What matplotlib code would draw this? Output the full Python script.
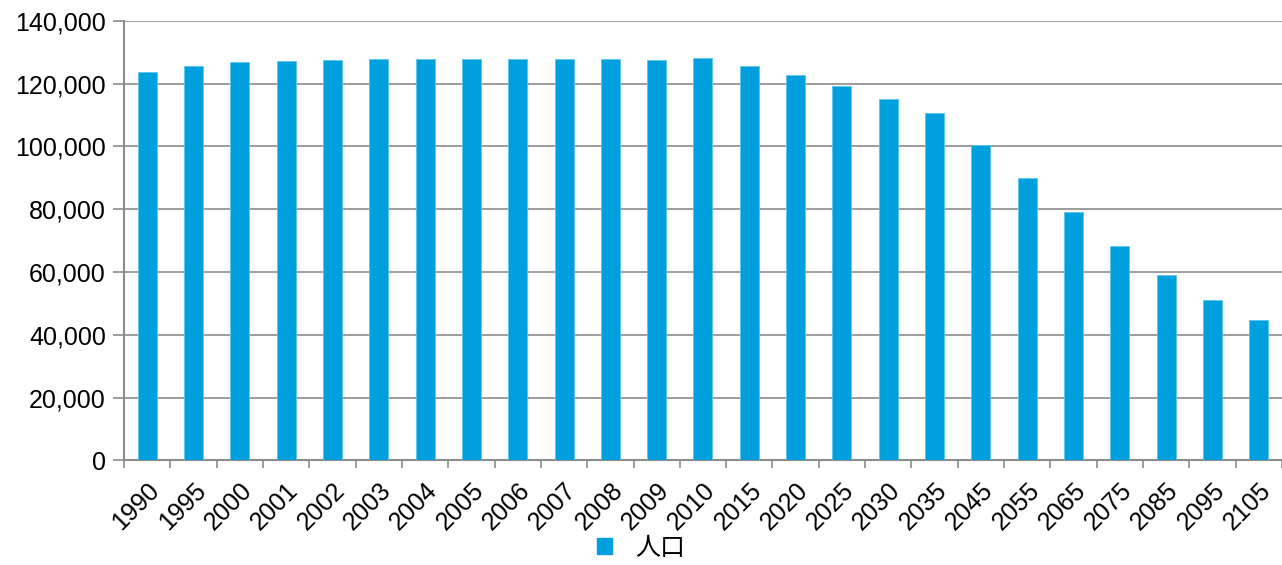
import numpy as np
import matplotlib
matplotlib.use("Agg")
import matplotlib.pyplot as plt
from matplotlib.ticker import FuncFormatter, FixedLocator
from matplotlib.patches import Patch

plt.rcParams['font.family'] = ['Liberation Sans', 'Noto Sans CJK JP', 'DejaVu Sans']

# data (thousands of people)
years = ['1990', '1995', '2000', '2001', '2002', '2003', '2004', '2005', '2006',
         '2007', '2008', '2009', '2010', '2015', '2020', '2025', '2030', '2035',
         '2045', '2055', '2065', '2075', '2085', '2095', '2105']
population = [123611, 125570, 126926, 127316, 127486, 127694, 127787, 127768, 127770,
              127771, 127692, 127510, 128057, 125430, 122735, 119270, 115224, 110679,
              100443, 89930, 79000, 68200, 59000, 51100, 44590]
series_name = '人口'

bar_color = '#00A0DE'
grid_color = '#8c8c8c'

fig = plt.figure(figsize=(12.82, 5.65), dpi=100)
ax = fig.add_axes([0.0967, 0.1853, 0.9033, 0.778])

x = np.arange(len(years))
ax.bar(x, population, width=0.41, color=bar_color, edgecolor='#5cc4ee', linewidth=0.6, zorder=3)

ax.set_xlim(-0.5, len(years) - 0.5)
ax.set_ylim(0, 140000)
ax.set_yticks(np.arange(0, 140001, 20000))
ax.yaxis.set_major_formatter(FuncFormatter(lambda v, p: f'{int(v):,}'))
ax.yaxis.grid(True, color=grid_color, linewidth=1.2, zorder=0)

# ticks between categories, labels at category centres
ax.xaxis.set_major_locator(FixedLocator(np.arange(-0.5, len(years), 1.0)))
ax.xaxis.set_major_formatter(FuncFormatter(lambda v, p: ''))
ax.set_xticks(x, minor=True)
ax.set_xticklabels(years, minor=True, rotation=45, ha='right', rotation_mode='anchor', fontsize=18)
ax.tick_params(axis='x', which='minor', length=0, pad=13)
ax.tick_params(axis='x', which='major', length=6, width=1.2, color=grid_color, direction='out')
ax.tick_params(axis='y', length=8, width=1.2, color=grid_color, labelsize=18, pad=5)

for s in ['top', 'right']:
    ax.spines[s].set_visible(False)
for s in ['left', 'bottom']:
    ax.spines[s].set_color(grid_color)
    ax.spines[s].set_linewidth(1.5)

fig.legend(handles=[Patch(color=bar_color, label=series_name)], loc='center',
           bbox_to_anchor=(0.5, 0.03), frameon=False, fontsize=18,
           handlelength=0.6, handleheight=0.6, handletextpad=0.9)

fig.savefig('out.png', dpi=100)
